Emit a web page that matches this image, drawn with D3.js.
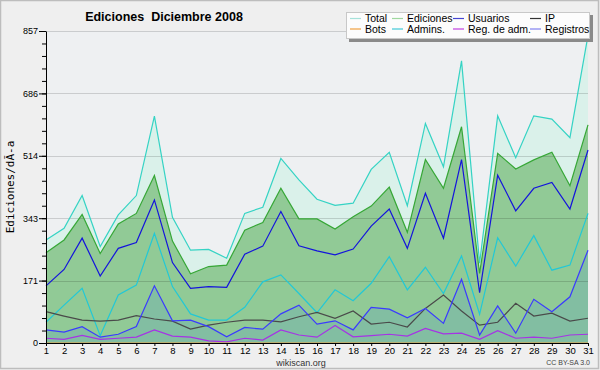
<!DOCTYPE html>
<html>
<head>
<meta charset="utf-8">
<script src="https://cdn.jsdelivr.net/npm/d3@7"></script>
<style>
  body { margin: 0; background: #efefef; }
  svg { display: block; }
</style>
</head>
<body>
<div id="chart"></div>
<script>
// values, one per day of December 2008
var days = d3.range(1, 32);
var total     = [283,315,405,265,352,405,623,345,255,257,233,356,373,507,448,395,378,384,477,524,377,603,484,775,219,624,509,624,615,564,845];
var ediciones = [248,283,353,246,327,356,460,280,190,210,214,310,331,425,341,341,313,347,376,428,304,504,425,594,191,521,478,503,524,432,599];
var usuarios  = [157,202,288,184,260,276,393,221,150,155,153,244,266,361,267,253,242,258,321,368,260,411,288,504,138,461,363,425,441,368,530];
var admins    = [57,104,150,20,132,159,301,155,80,63,63,98,168,187,136,83,146,116,164,237,146,208,136,239,79,289,211,295,200,214,356];
var ip        = [86,74,63,60,63,75,66,60,38,49,57,63,63,58,72,84,68,88,52,57,44,95,132,88,49,57,109,74,82,60,68];
var registros = [36,30,45,16,24,45,157,61,63,45,17,43,38,80,104,52,61,36,98,93,69,95,54,175,22,102,27,120,86,127,255];
var regAdm    = [13,10,21,10,13,16,36,19,16,6,3,13,8,36,22,16,48,17,20,24,19,40,25,27,10,34,13,16,13,22,24];
var bots      = [0,0,0,0,0,0,0,0,0,0,0,0,0,0,0,0,0,0,0,0,0,0,0,0,0,0,0,0,0,0,0];

var yTicks = [0, 171.4, 342.8, 514.2, 685.6, 857];
var yTickLabels = ["0", "171", "343", "514", "686", "857"];

var legendItems = [
    ["Total", "#a6e2da"], ["Ediciones", "#9fd89f"], ["Usuarios", "#4646d2"], ["IP", "#333333"],
    ["Bots", "#f0a040"], ["Admins.", "#40c8d8"], ["Reg. de adm.", "#c040e0"], ["Registros", "#8080f0"]
];

var svgWidth = 600;
var svgHeight = 370;
var margin = {top: 31, right: 12, bottom: 27, left: 46};

var svg = d3.select("#chart")
    .append("svg")
    .attr("width", svgWidth)
    .attr("height", svgHeight)
    .style("font-family", "'Liberation Sans', Arial, sans-serif");

// outer frame
svg.append("rect")
    .attr("x", 0.5).attr("y", 0.5)
    .attr("width", svgWidth - 2).attr("height", svgHeight - 2)
    .attr("fill", "#efefef")
    .attr("stroke", "#bdbdbd")
    .attr("stroke-width", 1.5);

var x = d3.scaleLinear().domain([1, 31]).range([margin.left, svgWidth - margin.right]);
var y = d3.scaleLinear().domain([0, 857]).range([svgHeight - margin.bottom, margin.top]);

// plot background
svg.append("rect")
    .attr("x", x(1)).attr("y", y(857))
    .attr("width", x(31) - x(1)).attr("height", y(0) - y(857))
    .attr("fill", "#eef0f2");

function area(vals) {
    return d3.area()
        .x((d, i) => x(days[i]))
        .y0(y(0))
        .y1(d => y(d))(vals);
}
function line(vals) {
    return d3.line()
        .x((d, i) => x(days[i]))
        .y(d => y(d))(vals);
}

// filled areas
svg.append("path").attr("d", area(total)).attr("fill", "#daf1ea");
svg.append("path").attr("d", area(ediciones)).attr("fill", "#91ca96");
svg.append("path").attr("d", area(registros)).attr("fill", "#82bea2");

// grid lines
svg.append("g")
    .selectAll("line")
    .data(yTicks.slice(1))
    .enter()
    .append("line")
    .attr("x1", x(1)).attr("x2", x(31))
    .attr("y1", d => Math.round(y(d)) + 0.5)
    .attr("y2", d => Math.round(y(d)) + 0.5)
    .attr("stroke", "#000")
    .attr("stroke-opacity", 0.15);

// series lines
var lines = [
    [total, "#35d3c4"],
    [ediciones, "#36a736"],
    [admins, "#22c8d6"],
    [ip, "#4a4a4a"],
    [registros, "#3a3aff"],
    [usuarios, "#1414dc"],
    [regAdm, "#a632e6"],
    [bots, "#f0a040"]
];
lines.forEach(function(l) {
    svg.append("path")
        .attr("d", line(l[0]))
        .attr("fill", "none")
        .attr("stroke", l[1])
        .attr("stroke-width", 1.2);
});

// y axis, major and minor ticks
var leftAxis = d3.axisLeft(y)
    .tickValues(yTicks)
    .tickFormat((d, i) => yTickLabels[i])
    .tickSize(7)
    .tickSizeOuter(0)
    .tickPadding(1);
var yAxis = svg.append("g")
    .attr("transform", `translate(${x(1)},0)`)
    .call(leftAxis);
yAxis.selectAll("text").attr("font-size", "9px").attr("fill", "#000").attr("font-family", "'Liberation Sans', Arial, sans-serif");

svg.append("g")
    .attr("transform", `translate(${x(1)},0)`)
    .call(d3.axisLeft(y).tickValues(d3.range(26).map(i => i * 857 / 25)).tickFormat("").tickSize(4).tickSizeOuter(0))
    .select(".domain").remove();

// x axis
var bottomAxis = d3.axisBottom(x)
    .tickValues(days)
    .tickFormat(d3.format("d"))
    .tickSize(3)
    .tickSizeOuter(0)
    .tickPadding(1);
var xAxis = svg.append("g")
    .attr("transform", `translate(0,${y(0)})`)
    .call(bottomAxis);
xAxis.selectAll("text").attr("font-size", "9.5px").attr("fill", "#000").attr("font-family", "'Liberation Sans', Arial, sans-serif");

// title
svg.append("text")
    .attr("x", 164).attr("y", 21)
    .attr("text-anchor", "middle")
    .attr("font-size", "12.5px")
    .attr("font-weight", "bold")
    .text("Ediciones\u00a0 Diciembre 2008");

// y label
svg.append("text")
    .attr("transform", `translate(14,${(y(0) + y(857)) / 2}) rotate(-90)`)
    .attr("text-anchor", "middle")
    .attr("font-family", "'DejaVu Sans Mono', monospace")
    .attr("font-size", "11px")
    .text("Ediciones/dÃ-a");

// footer texts
svg.append("text")
    .attr("x", 301).attr("y", 366)
    .attr("text-anchor", "middle")
    .attr("font-size", "9px")
    .attr("fill", "#333")
    .text("wikiscan.org");
svg.append("text")
    .attr("x", 590).attr("y", 365)
    .attr("text-anchor", "end")
    .attr("font-size", "7px")
    .attr("fill", "#444")
    .text("CC BY-SA 3.0");

// legend
var legend = svg.append("g");
legend.append("rect")
    .attr("x", 349).attr("y", 15)
    .attr("width", 244).attr("height", 27)
    .attr("fill", "#8a8a8a");
legend.append("rect")
    .attr("x", 346.5).attr("y", 12.5)
    .attr("width", 243).attr("height", 26)
    .attr("fill", "#fcfcfc")
    .attr("stroke", "#c8c8c8");

var colX = [350, 392, 453, 530];
var rowY = [22, 32.5];
legendItems.forEach(function(item, i) {
    var cx = colX[i % 4];
    var cy = rowY[Math.floor(i / 4)];
    legend.append("line")
        .attr("x1", cx).attr("x2", cx + 11)
        .attr("y1", cy - 3.5).attr("y2", cy - 3.5)
        .attr("stroke", item[1])
        .attr("stroke-width", 1.2);
    legend.append("text")
        .attr("x", cx + 15).attr("y", cy)
        .attr("font-size", "10.5px")
        .text(item[0]);
});
</script>
</body>
</html>
